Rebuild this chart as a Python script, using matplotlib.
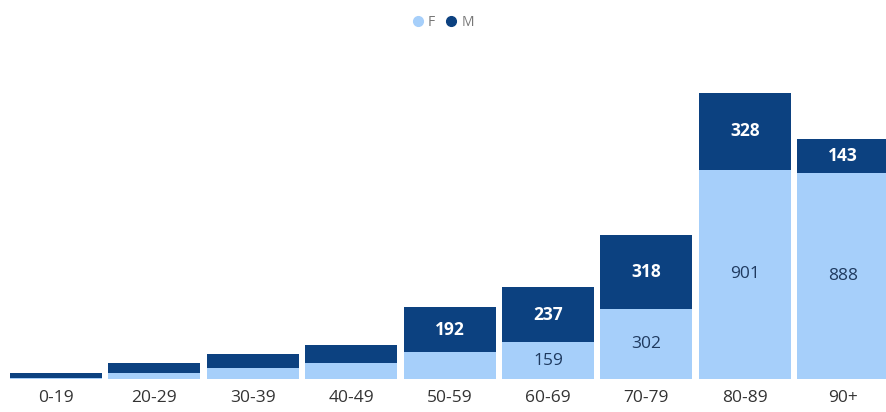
import matplotlib
matplotlib.use("Agg")
import matplotlib.pyplot as plt
from matplotlib.lines import Line2D
import numpy as np

ages = ["0-19", "20-29", "30-39", "40-49", "50-59", "60-69", "70-79", "80-89", "90+"]
female = [5, 27, 49, 67, 117, 159, 302, 901, 888]
male = [21, 40, 57, 79, 192, 237, 318, 328, 143]

c_f = "#a6cffa"
c_m = "#0c4180"

plt.rcParams['font.family'] = ['Open Sans', 'DejaVu Sans']

fig = plt.figure(figsize=(8.86, 4.12), dpi=100)
ax = fig.add_axes([0.0077, 0.08, 0.9995, 0.79])

x = np.arange(len(ages))
ax.bar(x, female, width=0.935, color=c_f)
ax.bar(x, male, width=0.935, bottom=female, color=c_m)

# labels only where the segment is tall enough
for i in range(len(ages)):
    if female[i] > 130:
        ax.text(x[i], female[i] / 2, str(female[i]), ha="center", va="center",
                color="#1f3a5f", fontsize=12.5)
    if male[i] > 130:
        ax.text(x[i], female[i] + male[i] / 2, str(male[i]), ha="center", va="center",
                color="white", fontsize=12.5, fontweight="bold")

ax.set_xlim(-0.5, 8.5)
ax.set_ylim(0, 1400)
ax.set_xticks(x)
ax.set_xticklabels(ages, fontsize=12.5, color="#333333")
ax.tick_params(axis="x", length=0, pad=8)
ax.set_yticks([])
for s in ax.spines.values():
    s.set_visible(False)

handles = [Line2D([], [], marker="o", linestyle="none", markersize=7, color=c_f),
           Line2D([], [], marker="o", linestyle="none", markersize=7, color=c_m)]
fig.legend(handles=handles, labels=["F", "M"], loc="upper center",
           bbox_to_anchor=(0.5, 0.995), ncol=2, frameon=False, fontsize=10,
           handlelength=0.8, columnspacing=0.8, handletextpad=0.3,
           labelcolor="#777777")

fig.savefig("out.png", dpi=100)
